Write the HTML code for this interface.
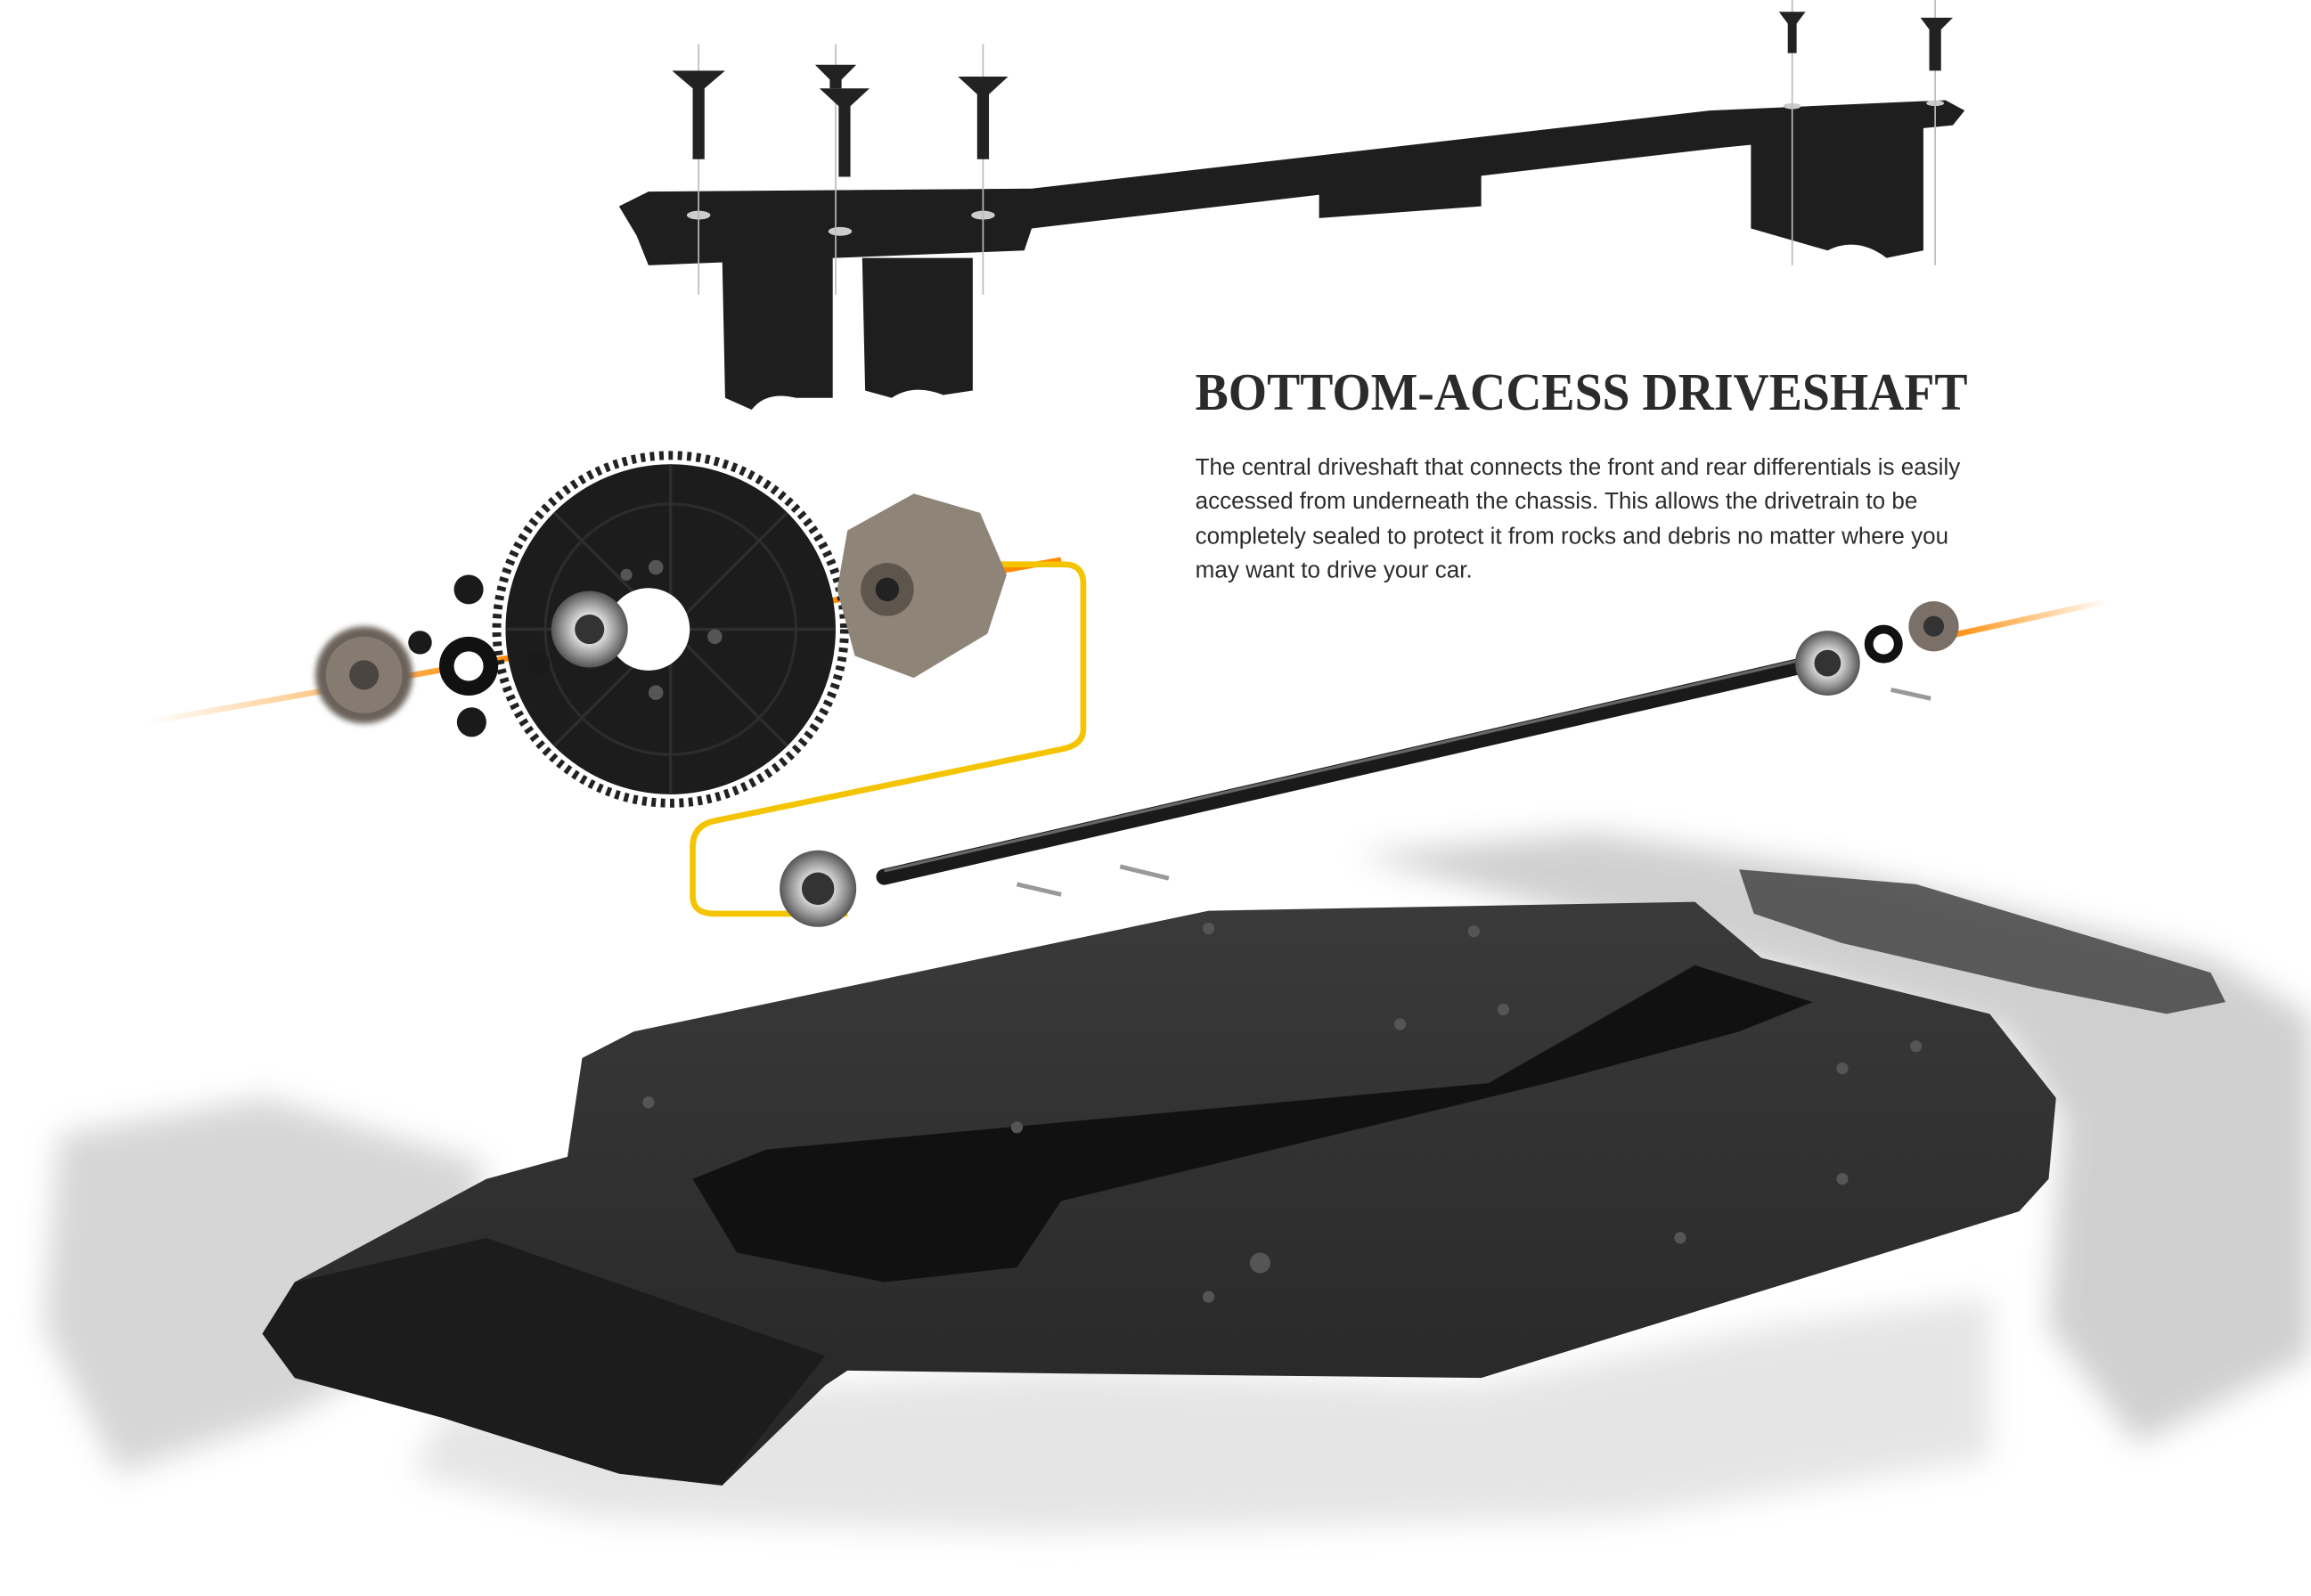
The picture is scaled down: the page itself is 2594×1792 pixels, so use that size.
<!DOCTYPE html>
<html><head><meta charset="utf-8"><style>
html,body{margin:0;padding:0;background:#fff;}
svg{display:block;}
</style></head><body>
<svg width="2594" height="1792" viewBox="0 0 1568 1083" preserveAspectRatio="none" xmlns="http://www.w3.org/2000/svg">
<defs>
<filter id="bl" x="-20%" y="-20%" width="140%" height="140%"><feGaussianBlur stdDeviation="10"/></filter>
<filter id="bs" x="-20%" y="-20%" width="140%" height="140%"><feGaussianBlur stdDeviation="2"/></filter>
<linearGradient id="og" x1="0" x2="1"><stop offset="0" stop-color="#ff8a00" stop-opacity="0"/><stop offset="0.4" stop-color="#ff8a00"/><stop offset="1" stop-color="#ff8a00"/></linearGradient>
<linearGradient id="og2" x1="0" x2="1"><stop offset="0" stop-color="#ff8a00"/><stop offset="1" stop-color="#ff8a00" stop-opacity="0"/></linearGradient>
<radialGradient id="brg"><stop offset="0.3" stop-color="#eee"/><stop offset="0.7" stop-color="#999"/><stop offset="1" stop-color="#555"/></radialGradient>
<linearGradient id="plate" x1="0" y1="0" x2="0" y2="1"><stop offset="0" stop-color="#3a3a3a"/><stop offset="1" stop-color="#262626"/></linearGradient>
</defs>

<!-- faded background car parts -->
<g filter="url(#bl)" opacity="0.4">
<path d="M40 770 L180 745 L330 790 L300 900 L200 960 L80 1000 L30 900 Z" fill="#9a9a9a"/>
<path d="M920 580 L1080 565 L1250 590 L1500 650 L1568 690 L1568 920 L1450 980 L1390 900 L1400 760 L1360 700 L1180 650 Z" fill="#8a8a8a"/>
<path d="M300 960 L560 940 L720 930 L1000 940 L1200 900 L1350 880 L1350 990 L1100 1030 L700 1040 L400 1030 L280 1000 Z" fill="#c0c0c0"/>
</g>
<path d="M1180 590 L1300 600 L1500 660 L1510 680 L1470 688 L1380 670 L1250 640 L1190 620 Z" fill="#444" opacity="0.85"/>

<!-- chassis plate -->
<path d="M395 718 L430 700 L820 618 L1150 612 L1195 650 L1350 688 L1395 745 L1390 800 L1370 822 L1005 935 L720 932 L575 930 L560 940 L490 1008 L420 1000 L300 962 L200 935 L178 905 L200 870 L330 800 L385 785 Z" fill="url(#plate)"/>
<path d="M470 800 L520 780 L1010 735 L1150 655 L1230 680 L1180 700 L1050 735 L720 815 L690 860 L600 870 L500 850 Z" fill="#111"/>
<path d="M200 870 L330 840 L560 920 L490 1008 L420 1000 L300 962 L200 935 L178 905 Z" fill="#1c1c1c"/>
<g fill="#555">
<circle cx="440" cy="748" r="4"/><circle cx="690" cy="765" r="4"/><circle cx="820" cy="630" r="4"/><circle cx="1000" cy="632" r="4"/><circle cx="1250" cy="800" r="4"/><circle cx="1140" cy="840" r="4"/><circle cx="855" cy="857" r="7"/><circle cx="820" cy="880" r="4"/><circle cx="1250" cy="725" r="4"/><circle cx="1020" cy="685" r="4"/><circle cx="950" cy="695" r="4"/><circle cx="1300" cy="710" r="4"/>
</g>

<!-- top brace -->
<g fill="#1e1e1e">
<path d="M420 140 L440 130 L700 128 L1160 75 L1320 68 L1333 75 L1325 85 L1170 100 L700 155 L695 170 L440 180 L432 160 Z"/>
<path d="M490 175 L565 175 L565 270 L540 270 Q520 265 510 278 L492 270 Z"/>
<path d="M585 175 L660 175 L660 265 L640 268 Q620 260 605 270 L587 265 Z"/>
<path d="M895 118 L1005 108 L1005 140 L895 148 Z"/>
<path d="M1188 88 L1305 78 L1305 170 L1280 175 Q1260 160 1240 170 L1188 155 Z"/>
</g>
<g fill="#ccc"><ellipse cx="474" cy="146" rx="8" ry="3"/><ellipse cx="570" cy="157" rx="8" ry="3"/><ellipse cx="667" cy="146" rx="8" ry="3"/><ellipse cx="1216" cy="72" rx="6" ry="2"/><ellipse cx="1313" cy="70" rx="6" ry="2"/></g>
<g stroke="#bbb" stroke-width="1"><line x1="474" y1="30" x2="474" y2="200"/><line x1="567" y1="30" x2="567" y2="200"/><line x1="667" y1="30" x2="667" y2="200"/><line x1="1216" y1="0" x2="1216" y2="180"/><line x1="1313" y1="0" x2="1313" y2="180"/></g>
<g fill="#222">
<path d="M456 48 L492 48 L478 60 L478 108 L470 108 L470 60 Z"/>
<path d="M553 44 L581 44 L571 54 L571 60 L563 60 L563 54 Z"/>
<path d="M556 60 L590 60 L577 72 L577 120 L569 120 L569 72 Z"/>
<path d="M650 52 L684 52 L671 64 L671 108 L663 108 L663 64 Z"/>
<path d="M1207 8 L1225 8 L1219 16 L1219 36 L1213 36 L1213 16 Z"/>
<path d="M1303 12 L1325 12 L1317 20 L1317 48 L1309 48 L1309 20 Z"/>
</g>

<line x1="100" y1="490" x2="720" y2="380" stroke="url(#og)" stroke-width="4"/>
<line x1="1320" y1="432" x2="1430" y2="408" stroke="url(#og2)" stroke-width="4"/>
<path d="M600 383 L722 383 Q735 383 735 396 L735 495 Q735 505 722 508 L485 557 Q470 560 470 575 L470 608 Q470 620 485 620 L575 620" fill="none" stroke="#f5c400" stroke-width="4"/>

<!-- gear -->
<circle cx="455" cy="427" r="118" fill="none" stroke="#222" stroke-width="6" stroke-dasharray="3 3.3"/>
<circle cx="455" cy="427" r="112" fill="#1c1c1c"/>
<circle cx="455" cy="427" r="85" fill="none" stroke="#2c2c2c" stroke-width="2"/>
<g stroke="#2e2e2e" stroke-width="2"><line x1="455" y1="315" x2="455" y2="539"/><line x1="343" y1="427" x2="567" y2="427"/><line x1="376" y1="348" x2="534" y2="506"/><line x1="534" y1="348" x2="376" y2="506"/></g>
<circle cx="440" cy="427" r="28" fill="#fff"/>
<circle cx="400" cy="427" r="26" fill="url(#brg)"/><circle cx="400" cy="427" r="10" fill="#333"/>
<g fill="#555"><circle cx="445" cy="385" r="5"/><circle cx="485" cy="432" r="5"/><circle cx="445" cy="470" r="5"/><circle cx="425" cy="390" r="4"/></g>
<g fill="#1a1a1a"><circle cx="318" cy="400" r="10"/><circle cx="320" cy="490" r="10"/><circle cx="285" cy="436" r="8"/><circle cx="365" cy="450" r="8"/></g>
<circle cx="318" cy="452" r="20" fill="#111"/><circle cx="318" cy="452" r="10" fill="#fff"/>
<g filter="url(#bs)"><circle cx="247" cy="458" r="33" fill="#6b625a"/></g>
<circle cx="247" cy="458" r="26" fill="#857b70"/><circle cx="247" cy="458" r="10" fill="#4a4540"/>
<path d="M575 360 L620 335 L665 348 L683 390 L670 430 L620 460 L580 445 L568 400 Z" fill="#8e8478"/>
<circle cx="602" cy="400" r="18" fill="#5e554c"/><circle cx="602" cy="400" r="8" fill="#222"/>

<!-- driveshaft -->
<line x1="600" y1="595" x2="1230" y2="450" stroke="#1a1a1a" stroke-width="11" stroke-linecap="round"/>
<line x1="600" y1="591" x2="1230" y2="446" stroke="#666" stroke-width="2"/>
<circle cx="555" cy="603" r="26" fill="url(#brg)"/><circle cx="555" cy="603" r="11" fill="#333"/>
<circle cx="1240" cy="450" r="22" fill="url(#brg)"/><circle cx="1240" cy="450" r="9" fill="#333"/>
<circle cx="1278" cy="437" r="13" fill="#111"/><circle cx="1278" cy="437" r="7" fill="#fff"/>
<circle cx="1312" cy="425" r="17" fill="#7a7068"/><circle cx="1312" cy="425" r="7" fill="#333"/>
<g stroke="#999" stroke-width="3"><line x1="690" y1="600" x2="720" y2="607"/><line x1="760" y1="588" x2="793" y2="596"/><line x1="1283" y1="468" x2="1310" y2="474"/></g>

<text x="811" y="278" font-family="Liberation Serif, serif" font-weight="bold" font-size="36" fill="#2b2b2b" textLength="524" lengthAdjust="spacingAndGlyphs">BOTTOM-ACCESS DRIVESHAFT</text>
<g font-family="Liberation Sans, sans-serif" font-size="15.5" fill="#2b2b2b">
<text x="811" y="322" textLength="519" lengthAdjust="spacingAndGlyphs">The central driveshaft that connects the front and rear differentials is easily</text>
<text x="811" y="345" textLength="490" lengthAdjust="spacingAndGlyphs">accessed from underneath the chassis. This allows the drivetrain to be</text>
<text x="811" y="369" textLength="511" lengthAdjust="spacingAndGlyphs">completely sealed to protect it from rocks and debris no matter where you</text>
<text x="811" y="392" textLength="188" lengthAdjust="spacingAndGlyphs">may want to drive your car.</text>
</g>
</svg>
</body></html>
